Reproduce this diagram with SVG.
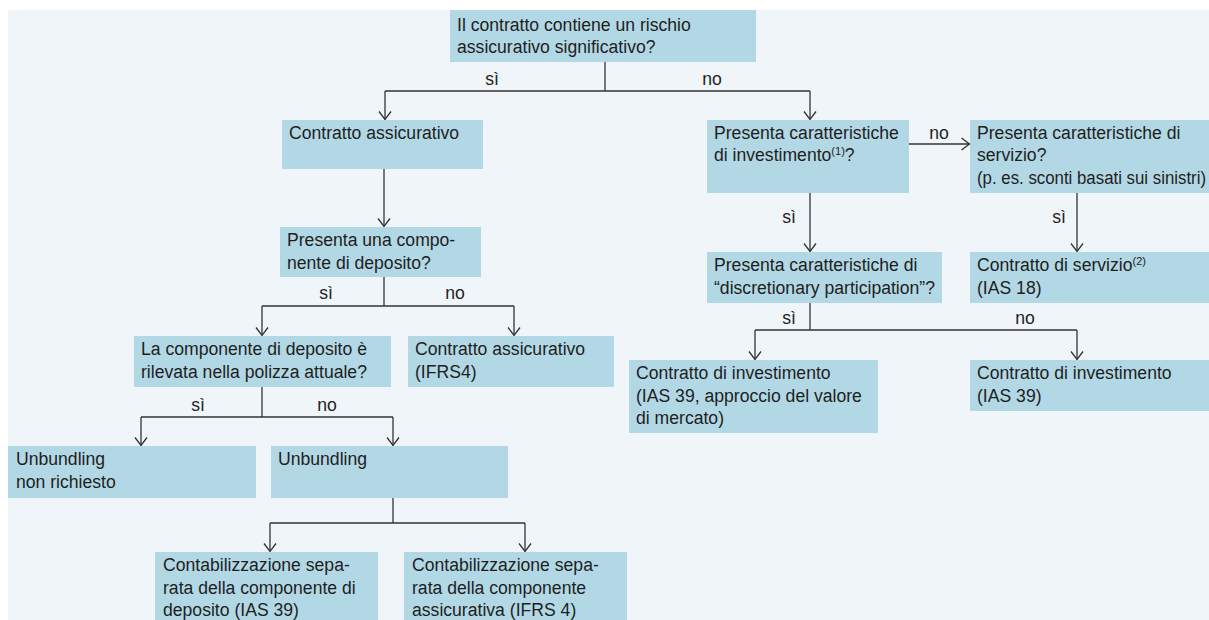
<svg xmlns="http://www.w3.org/2000/svg" width="1209" height="620" viewBox="0 0 1209 620">
<style>
.box{fill:#b3d8e5}
.t{font-family:"Liberation Sans",Arial,sans-serif;font-size:17.6px;fill:#1e1e1e}
.l{font-family:"Liberation Sans",Arial,sans-serif;font-size:17.6px;fill:#1e1e1e;text-anchor:middle}
.c path{fill:none;stroke:#333;stroke-width:1.3}
.sup{font-size:11px}
</style>
<defs>
<marker id="a" markerUnits="userSpaceOnUse" viewBox="-10 -8 12 16" markerWidth="12" markerHeight="16" refX="0" refY="0" orient="auto">
<path d="M-8,-6 L0,0 L-8,6" fill="none" stroke="#333" stroke-width="1.3"/>
</marker>
</defs>
<rect x="0" y="0" width="1209" height="620" fill="#ffffff"/>
<rect x="8" y="10" width="1201" height="610" fill="#eff5f8"/>

<g class="c" id="connectors">
<path d="M605,62 V91"/>
<path d="M385,91 H810"/>
<path d="M385,91 V119.5" marker-end="url(#a)"/>
<path d="M810,91 V119.5" marker-end="url(#a)"/>
<path d="M384,169 V226.5" marker-end="url(#a)"/>
<path d="M909,144 H969.5" marker-end="url(#a)"/>
<path d="M810,193 V251.5" marker-end="url(#a)"/>
<path d="M1077,193 V251.5" marker-end="url(#a)"/>
<path d="M384,277 V306"/>
<path d="M262,306 H514"/>
<path d="M262,306 V335.5" marker-end="url(#a)"/>
<path d="M514,306 V335.5" marker-end="url(#a)"/>
<path d="M810,303 V330"/>
<path d="M755,330 H1077"/>
<path d="M755,330 V359.5" marker-end="url(#a)"/>
<path d="M1077,330 V359.5" marker-end="url(#a)"/>
<path d="M262,387 V417"/>
<path d="M141,417 H393"/>
<path d="M141,417 V445.5" marker-end="url(#a)"/>
<path d="M393,417 V445.5" marker-end="url(#a)"/>
<path d="M393,498 V523"/>
<path d="M270,523 H525"/>
<path d="M270,523 V551.5" marker-end="url(#a)"/>
<path d="M525,523 V551.5" marker-end="url(#a)"/>
<text class="l" x="492" y="85">sì</text>
<text class="l" x="712" y="85">no</text>
<text class="l" x="939" y="139">no</text>
<text class="l" x="789" y="223">sì</text>
<text class="l" x="1059" y="223">sì</text>
<text class="l" x="326" y="299">sì</text>
<text class="l" x="455" y="299">no</text>
<text class="l" x="789" y="324">sì</text>
<text class="l" x="1025" y="324">no</text>
<text class="l" x="198" y="411">sì</text>
<text class="l" x="327" y="411">no</text>
</g>

<g id="n_top">
<rect class="box" x="450" y="10" width="306" height="52"/>
<text class="t" x="457" y="30.5">Il contratto contiene un rischio</text>
<text class="t" x="457" y="53">assicurativo significativo?</text>
</g>
<g id="n_contratto_ass">
<rect class="box" x="282" y="120" width="201" height="49"/>
<text class="t" x="289" y="138.5">Contratto assicurativo</text>
</g>
<g id="n_investimento">
<rect class="box" x="707" y="120" width="202" height="73"/>
<text class="t" x="714" y="138.5">Presenta caratteristiche</text>
<text class="t" x="714" y="161">di investimento<tspan class="sup" dy="-6">(1)</tspan><tspan dy="6">?</tspan></text>
</g>
<g id="n_servizio">
<rect class="box" x="970" y="120" width="245" height="73"/>
<text class="t" x="977" y="138.5">Presenta caratteristiche di</text>
<text class="t" x="977" y="161">servizio?</text>
<text class="t" x="977" y="183.5" textLength="229" lengthAdjust="spacingAndGlyphs">(p. es. sconti basati sui sinistri)</text>
</g>
<g id="n_deposito">
<rect class="box" x="280" y="227" width="201" height="50"/>
<text class="t" x="287" y="246">Presenta una compo-</text>
<text class="t" x="287" y="268.5">nente di deposito?</text>
</g>
<g id="n_discretionary">
<rect class="box" x="707" y="252" width="235" height="51"/>
<text class="t" x="714" y="271">Presenta caratteristiche di</text>
<text class="t" x="714" y="293.5">“discretionary participation”?</text>
</g>
<g id="n_contratto_servizio">
<rect class="box" x="970" y="252" width="245" height="51"/>
<text class="t" x="977" y="271">Contratto di servizio<tspan class="sup" dy="-6">(2)</tspan></text>
<text class="t" x="977" y="293.5">(IAS 18)</text>
</g>
<g id="n_rilevata">
<rect class="box" x="134" y="336" width="257" height="51"/>
<text class="t" x="141" y="355">La componente di deposito è</text>
<text class="t" x="141" y="377.5">rilevata nella polizza attuale?</text>
</g>
<g id="n_ifrs4">
<rect class="box" x="408" y="336" width="206" height="51"/>
<text class="t" x="415" y="355">Contratto assicurativo</text>
<text class="t" x="415" y="377.5">(IFRS4)</text>
</g>
<g id="n_inv_mercato">
<rect class="box" x="629" y="360" width="249" height="73"/>
<text class="t" x="636" y="379">Contratto di investimento</text>
<text class="t" x="636" y="401.5">(IAS 39, approccio del valore</text>
<text class="t" x="636" y="424">di mercato)</text>
</g>
<g id="n_inv_ias39">
<rect class="box" x="970" y="360" width="245" height="51"/>
<text class="t" x="977" y="379">Contratto di investimento</text>
<text class="t" x="977" y="401.5">(IAS 39)</text>
</g>
<g id="n_unb_no">
<rect class="box" x="8" y="446" width="248" height="52"/>
<text class="t" x="16" y="465">Unbundling</text>
<text class="t" x="16" y="487.5">non richiesto</text>
</g>
<g id="n_unb">
<rect class="box" x="271" y="446" width="237" height="52"/>
<text class="t" x="278" y="465">Unbundling</text>
</g>
<g id="n_cont_dep">
<rect class="box" x="155" y="552" width="223" height="80"/>
<text class="t" x="163" y="571">Contabilizzazione sepa-</text>
<text class="t" x="163" y="593.5">rata della componente di</text>
<text class="t" x="163" y="616">deposito (IAS 39)</text>
</g>
<g id="n_cont_ass">
<rect class="box" x="404" y="552" width="223" height="80"/>
<text class="t" x="412" y="571">Contabilizzazione sepa-</text>
<text class="t" x="412" y="593.5">rata della componente</text>
<text class="t" x="412" y="616">assicurativa (IFRS 4)</text>
</g>
</svg>
